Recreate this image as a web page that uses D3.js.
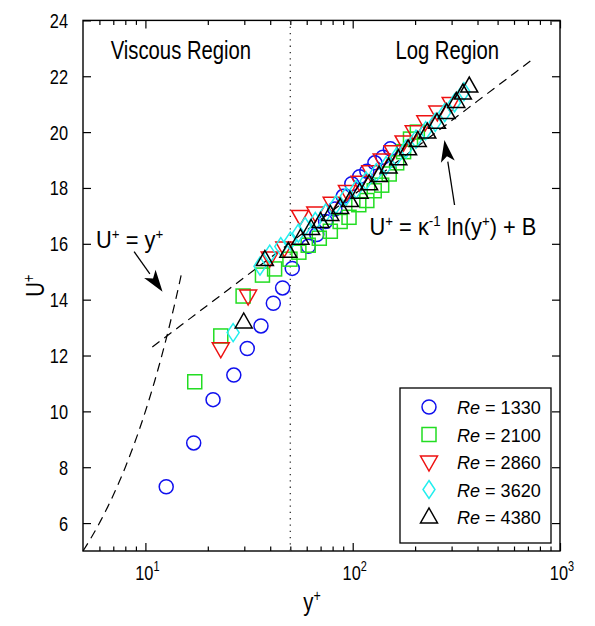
<!DOCTYPE html>
<html><head><meta charset="utf-8">
<script src="https://cdn.jsdelivr.net/npm/d3@7"></script>
<style>body{margin:0;background:#fff}svg{display:block}text{font-family:"Liberation Sans",Arial,sans-serif;fill:#000}</style>
</head><body>
<script>
// ---------- data ----------
const seriesNames = ["1330","2100","2860","3620","4380"];
const re1330 = [[12.6,7.30],[17.1,8.87],[21.2,10.42],[26.7,11.30],[31.0,12.25],[36.1,13.06],[41.4,13.87],[45.9,14.42],[51.1,15.12],[61.1,15.91],[67.1,16.33],[74,16.8],[82,17.25],[90,17.7],[99,18.15],[108,18.4],[117,18.6],[128,18.9],[140,19.1],[152,19.4]];
const re2100 = [[17.3,11.06],[23.1,12.70],[29.6,14.13],[36.7,14.88],[42,15.1],[49.8,15.45],[55,15.7],[61,15.95],[69,16.2],[78,16.45],[87,16.8],[96,16.95],[107,17.4],[117,17.55],[127,17.9],[138,18.1],[150,18.5],[163,18.9],[176,19.3],[190,19.75],[205,20.0]];
const re2860 = [[23.1,12.24],[31.3,14.13],[39.8,15.49],[46.8,15.85],[55.7,16.98],[66,17.1],[79.2,17.45],[93.8,17.87],[108,18.2],[121.6,18.58],[138,19.0],[156,19.3],[176,19.65],[197,20.01],[224,20.37],[256,20.72],[297,21.02]];
const re3620 = [[26.5,12.82],[35.7,15.2],[39.8,15.63],[45,15.9],[50,16.1],[54.7,16.38],[58.9,16.62],[66,16.8],[74,17.1],[83,17.4],[93,17.7],[104,17.95],[116,18.25],[130,18.55],[145,18.8],[162,19.1],[181,19.4],[202,19.75],[225,20.05],[250,20.35],[278,20.7],[310,21.05],[344,21.45]];
const re4380 = [[29.8,13.2],[37.7,15.44],[48.9,15.73],[56,16.2],[63,16.55],[70,16.8],[78,17.05],[87,17.3],[97,17.55],[108,17.85],[120,18.15],[134,18.45],[149,18.75],[166,19.05],[185,19.4],[206,19.7],[229,20.0],[255,20.35],[284,20.7],[316,21.1],[340,21.4],[365,21.65]];
const seriesData = [re1330, re2100, re2860, re3620, re4380];
const seriesColors = ["#1010ee","#22dd22","#ee1111","#22eeee","#000000"];
const seriesMarkers = ["circle","square","triangleDown","diamond","triangleUp"];

const xMajorTicks = [10,100,1000];
const xMinorTicks = [6,7,8,9,20,30,40,50,60,70,80,90,200,300,400,500,600,700,800,900];
const yTicks = [6,8,10,12,14,16,18,20,22,24];
const kappa = 0.41, B = 6.5;
const logLawRange = [10.8, 755];
const viscousRange = [5, 15];
const dividerX = 50;

// ---------- layout ----------
const W = 595, H = 626;
const svg = d3.select("body").append("svg").attr("width", W).attr("height", H);
const x = d3.scaleLog().domain([5,1000]).range([83,560]);
const y = d3.scaleLinear().domain([5,24]).range([551,20.4]);
const SX = 0.78;

function txt(g, px, py, size, anchor, sx) {
  return g.append("text").attr("transform", `translate(${px},${py}) scale(${sx || SX},1)`)
    .attr("font-size", size).attr("text-anchor", anchor || "start");
}

// axes with inward ticks
const gx = svg.append("g").attr("transform", `translate(0,${y(5)})`);
gx.call(d3.axisBottom(x).tickValues(xMajorTicks).tickSize(-8).tickSizeOuter(0).tickFormat(""));
const gxm = svg.append("g").attr("transform", `translate(0,${y(5)})`);
gxm.call(d3.axisBottom(x).tickValues(xMinorTicks).tickSize(-4.5).tickSizeOuter(0).tickFormat(""));
const gxt = svg.append("g").attr("transform", `translate(0,${y(24)})`);
gxt.call(d3.axisTop(x).tickValues(xMajorTicks).tickSize(-8).tickSizeOuter(0).tickFormat(""));
const gxtm = svg.append("g").attr("transform", `translate(0,${y(24)})`);
gxtm.call(d3.axisTop(x).tickValues(xMinorTicks).tickSize(-4.5).tickSizeOuter(0).tickFormat(""));
const gy = svg.append("g").attr("transform", `translate(${x(5)},0)`);
gy.call(d3.axisLeft(y).tickValues(yTicks).tickSize(-8).tickSizeOuter(0).tickFormat(""));
const gyr = svg.append("g").attr("transform", `translate(${x(1000)},0)`);
gyr.call(d3.axisRight(y).tickValues(yTicks).tickSize(-8).tickSizeOuter(0).tickFormat(""));
svg.selectAll(".domain").remove();
svg.selectAll(".tick line").attr("stroke", "#000").attr("stroke-width", 1.2);

// tick labels
yTicks.forEach(t => { txt(svg, x(5) - 15, y(t) + 7.5, 21, "end").text(t); });
xMajorTicks.forEach(t => {
  const e = Math.round(Math.log10(t));
  const tt = txt(svg, x(t) + 2, y(5) + 29, 21, "middle");
  tt.append("tspan").text("10");
  tt.append("tspan").attr("dy", -9).attr("font-size", 14).text(e);
});

// frame
svg.append("rect").attr("x", x(5)).attr("y", y(24)).attr("width", x(1000) - x(5)).attr("height", y(5) - y(24))
  .attr("fill", "none").attr("stroke", "#000").attr("stroke-width", 1.4);

// axis labels
const yl = svg.append("text").attr("transform", `translate(44,${(y(5)+y(24))/2}) rotate(-90) scale(${SX},1)`)
  .attr("font-size", 26).attr("text-anchor", "middle");
yl.append("tspan").text("U");
yl.append("tspan").attr("dy", -10).attr("font-size", 16).text("+");
const xl = txt(svg, 312, 611, 26, "middle");
xl.append("tspan").text("y");
xl.append("tspan").attr("dy", -10).attr("font-size", 16).text("+");

// reference lines
svg.append("line").attr("x1", x(dividerX)).attr("x2", x(dividerX)).attr("y1", y(24)).attr("y2", y(5))
  .attr("stroke", "#333").attr("stroke-width", 1.3).attr("stroke-dasharray", "1.3,5");
const line = d3.line().x(d => x(d[0])).y(d => y(d[1]));
const vis = d3.range(0, 41).map(i => viscousRange[0] * Math.pow(viscousRange[1]/viscousRange[0], i/40)).map(v => [v, v]);
svg.append("path").attr("d", line(vis)).attr("fill", "none").attr("stroke", "#000").attr("stroke-width", 1.2).attr("stroke-dasharray", "9,6");
const lg = d3.range(0, 41).map(i => logLawRange[0] * Math.pow(logLawRange[1]/logLawRange[0], i/40)).map(v => [v, Math.log(v)/kappa + B]);
svg.append("path").attr("d", line(lg)).attr("fill", "none").attr("stroke", "#000").attr("stroke-width", 1.2).attr("stroke-dasharray", "9,6");

// markers
function drawMarker(g, type, cx, cy, color) {
  const sw = 1.5;
  if (type === "circle") {
    g.append("circle").attr("cx", cx).attr("cy", cy).attr("r", 7).attr("fill", "none").attr("stroke", color).attr("stroke-width", sw);
  } else if (type === "square") {
    g.append("rect").attr("x", cx - 7).attr("y", cy - 7).attr("width", 14).attr("height", 14).attr("fill", "none").attr("stroke", color).attr("stroke-width", sw);
  } else if (type === "triangleDown") {
    g.append("path").attr("d", `M${cx-8.5},${cy-6}L${cx+8.5},${cy-6}L${cx},${cy+9}Z`).attr("fill", "none").attr("stroke", color).attr("stroke-width", sw);
  } else if (type === "triangleUp") {
    g.append("path").attr("d", `M${cx-8.5},${cy+6}L${cx+8.5},${cy+6}L${cx},${cy-9}Z`).attr("fill", "none").attr("stroke", color).attr("stroke-width", sw);
  } else if (type === "diamond") {
    g.append("path").attr("d", `M${cx},${cy-9}L${cx+6},${cy}L${cx},${cy+9}L${cx-6},${cy}Z`).attr("fill", "none").attr("stroke", color).attr("stroke-width", sw);
  }
}
seriesData.forEach((data, i) => {
  const g = svg.append("g");
  data.forEach(d => drawMarker(g, seriesMarkers[i], x(d[0]), y(d[1]), seriesColors[i]));
});

// annotations
txt(svg, x(6.8), y(22.6), 26).text("Viscous Region");
txt(svg, x(160.7), y(22.6), 26).text("Log Region");
const AS = 0.95;
const a1 = txt(svg, x(5.78), y(15.85), 23, "start", AS);
a1.append("tspan").text("U");
a1.append("tspan").attr("dy", -9).attr("font-size", 14).text("+");
a1.append("tspan").attr("dy", 9).text(" = y");
a1.append("tspan").attr("dy", -9).attr("font-size", 14).text("+");
const a2 = txt(svg, x(120.5), y(16.31), 23, "start", AS);
a2.append("tspan").text("U");
a2.append("tspan").attr("dy", -9).attr("font-size", 14).text("+");
a2.append("tspan").attr("dy", 9).text(" = κ");
a2.append("tspan").attr("dy", -9).attr("font-size", 14).text("-1");
a2.append("tspan").attr("dy", 9).text(" ln(y");
a2.append("tspan").attr("dy", -9).attr("font-size", 14).text("+");
a2.append("tspan").attr("dy", 9).text(") + B");

function arrow(from, to) {
  const x1 = x(from[0]), y1 = y(from[1]), x2 = x(to[0]), y2 = y(to[1]);
  const ang = Math.atan2(y2 - y1, x2 - x1);
  const L = 22, Wd = 7;
  const bx = x2 - L * Math.cos(ang), by = y2 - L * Math.sin(ang);
  svg.append("line").attr("x1", x1).attr("y1", y1).attr("x2", bx).attr("y2", by).attr("stroke", "#000").attr("stroke-width", 1.3);
  const px = -Math.sin(ang) * Wd, py = Math.cos(ang) * Wd;
  const nx = x2 - 0.75 * L * Math.cos(ang), ny = y2 - 0.75 * L * Math.sin(ang);
  svg.append("path").attr("d", `M${x2},${y2}L${bx+px},${by+py}L${nx},${ny}L${bx-px},${by-py}Z`).attr("fill", "#000");
}
arrow([8.82, 15.72], [12.1, 14.28]);
arrow([310, 17.39], [277, 19.72]);

// legend
const leg = svg.append("g");
leg.append("rect").attr("x", 400).attr("y", 388).attr("width", 151).attr("height", 155).attr("fill", "#fff").attr("stroke", "#000").attr("stroke-width", 1.3);
seriesNames.forEach((n, i) => {
  const cy = 407 + i * 27.5;
  drawMarker(leg, seriesMarkers[i], 429, cy, seriesColors[i]);
  const t = leg.append("text").attr("transform", `translate(457,${cy+7}) scale(0.95,1)`).attr("font-size", 19);
  t.append("tspan").attr("font-style", "italic").text("Re");
  t.append("tspan").text(" = " + n);
});
</script>
</body></html>
